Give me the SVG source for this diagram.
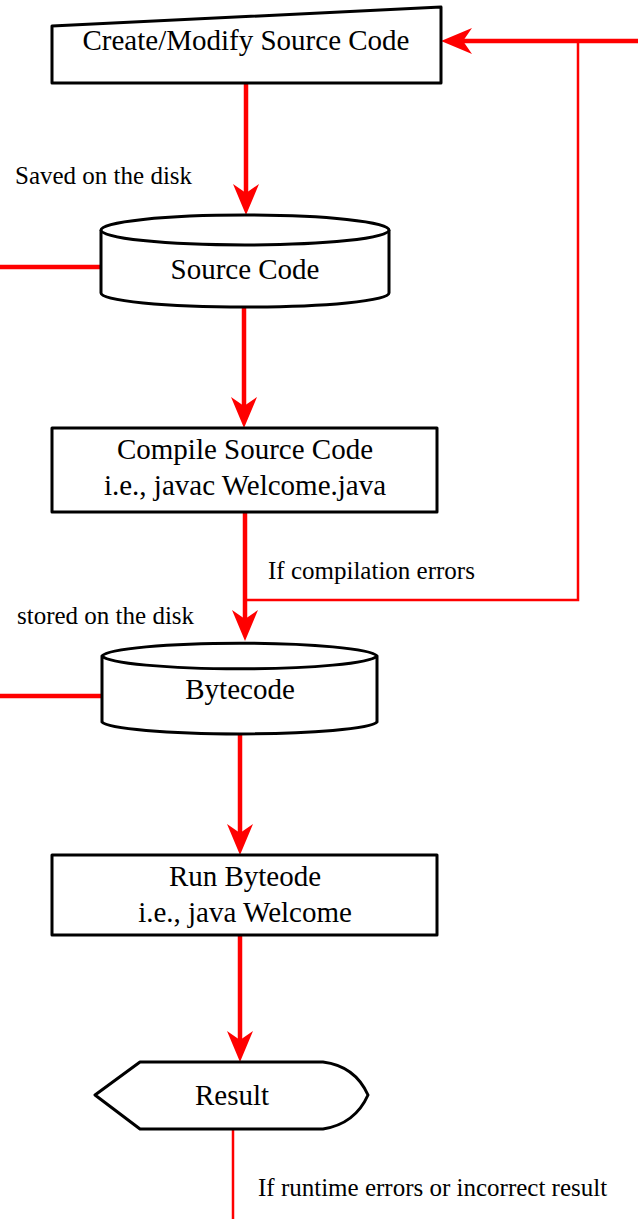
<svg xmlns="http://www.w3.org/2000/svg" width="638" height="1219" viewBox="0 0 638 1219">
<style>
.node{fill:#fff;stroke:#000;stroke-width:3;stroke-linejoin:round}
.t{font-family:"Liberation Serif","Times New Roman",serif;font-size:29px;fill:#000;text-anchor:middle}
.l{font-family:"Liberation Serif","Times New Roman",serif;font-size:25px;fill:#000}
.thick{stroke:#ff0000;stroke-width:4.5;fill:none}
.thin{stroke:#ff0000;stroke-width:2.5;fill:none}
.ah{fill:#ff0000}
</style>
<defs>
<polygon id="ahd" class="ah" points="0,0 -13,-31 0,-22 13,-31"/>
</defs>
<g id="connectors">
<line class="thick" x1="246" y1="83" x2="246" y2="195"/>
<use href="#ahd" x="246" y="215"/>
<line class="thick" x1="638" y1="41" x2="462" y2="41"/>
<use href="#ahd" transform="translate(441,41) rotate(90)"/>
<polyline class="thin" points="578,41 578,600 245,600"/>
<line class="thick" x1="0" y1="267" x2="101" y2="267"/>
<line class="thick" x1="244" y1="307" x2="244" y2="410"/>
<use href="#ahd" x="244" y="428"/>
<line class="thick" x1="245" y1="512" x2="245" y2="622"/>
<use href="#ahd" x="245" y="641"/>
<line class="thick" x1="0" y1="696" x2="102" y2="696"/>
<line class="thick" x1="240" y1="735" x2="240" y2="836"/>
<use href="#ahd" x="240" y="855"/>
<line class="thick" x1="240" y1="935" x2="240" y2="1043"/>
<use href="#ahd" x="240" y="1062"/>
<line class="thin" x1="233" y1="1130" x2="233" y2="1219"/>
</g>
<g id="labels">
<text class="l" x="15" y="184">Saved on the disk</text>
<text class="l" x="268" y="579">If compilation errors</text>
<text class="l" x="17" y="624">stored on the disk</text>
<text class="l" x="258" y="1196">If runtime errors or incorrect result</text>
</g>
<g id="create">
<polygon class="node" points="52,26 441,7 441,83 52,83"/>
<text class="t" x="246" y="50">Create/Modify Source Code</text>
</g>
<g id="sourcecode">
<path class="node" d="M101,230 A144,15 0 0 1 389,230 L389,293 A144,14 0 0 1 101,293 Z"/>
<path class="node" d="M101,230 A144,15 0 0 0 389,230" fill="none"/>
<text class="t" x="245" y="279">Source Code</text>
</g>
<g id="compile">
<rect class="node" x="52" y="428" width="385" height="84"/>
<text class="t" x="245" y="459">Compile Source Code</text>
<text class="t" x="245" y="495">i.e., javac Welcome.java</text>
</g>
<g id="bytecode">
<path class="node" d="M102,656 A138,14 0 0 1 377,656 L377,722 A138,13 0 0 1 102,722 Z"/>
<path class="node" d="M102,656 A138,14 0 0 0 377,656" fill="none"/>
<text class="t" x="240" y="699">Bytecode</text>
</g>
<g id="run">
<rect class="node" x="52" y="855" width="385" height="80"/>
<text class="t" x="245" y="886">Run Byteode</text>
<text class="t" x="245" y="922">i.e., java Welcome</text>
</g>
<g id="result">
<path class="node" d="M95,1095 L140,1062 L323,1062 Q355,1066 368,1095 Q355,1124 323,1129 L140,1129 Z"/>
<text class="t" x="232" y="1105">Result</text>
</g>
</svg>
